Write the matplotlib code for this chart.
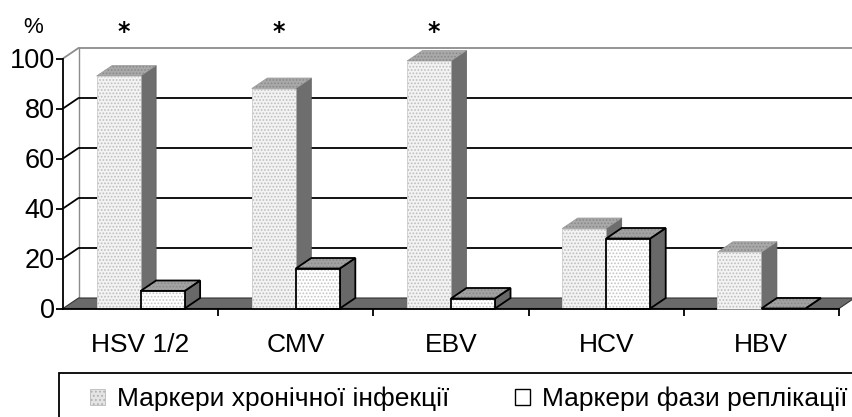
import matplotlib
matplotlib.use("Agg")
import matplotlib.pyplot as plt
from matplotlib.patches import Rectangle, Polygon, Patch

plt.rcParams['font.family'] = ['Liberation Sans', 'DejaVu Sans']
plt.rcParams['hatch.linewidth'] = 0.8

# ---- data ----
categories = ["HSV 1/2", "CMV", "EBV", "HCV", "HBV"]
chronic = [93, 88, 99, 32, 22.5]
replication = [7, 16, 4, 28, 0]
significant = [True, True, True, False, False]
yticks = [0, 20, 40, 60, 80, 100]
legend_labels = ["Маркери хронічної інфекції", "Маркери фази реплікації"]

# ---- style ----
W, H, DPI = 853, 417, 100
BAR_W = 0.2835
DX, DY = 0.1, 4.2

fig = plt.figure(figsize=(W / DPI, H / DPI), dpi=DPI)
fig.patch.set_facecolor('white')
ax = fig.add_axes([63 / W, (H - 308.5) / H, 776 / W, 250 / H])
ax.set_xlim(-0.5, len(categories) - 0.5)
ax.set_ylim(0, 100)
ax.set_facecolor('none')
for s in ['top', 'right']:
    ax.spines[s].set_visible(False)
for s in ['left', 'bottom']:
    ax.spines[s].set_linewidth(1.3)
    ax.spines[s].set_zorder(10)

x_left = -0.5
x_right = len(categories) - 0.5

# back wall gridlines and side wall diagonals
for v in yticks:
    col = '#8c8c8c' if v == 100 else 'black'
    if v == 0:
        continue
    ax.plot([x_left, x_left + DX, x_right + DX], [v, v + DY, v + DY],
            color=col, lw=1.3, clip_on=False, zorder=0.5, solid_capstyle='butt')
# back-left vertical edge
ax.plot([x_left + DX, x_left + DX], [DY, 100 + DY], color='#8c8c8c', lw=1.0,
        clip_on=False, zorder=0.4)

# floor
ax.add_patch(Polygon([(x_left, 0), (x_right, 0), (x_right + DX, DY), (x_left + DX, DY)],
                     closed=True, facecolor='#6a6a6a', edgecolor='#333333', lw=0.8,
                     clip_on=False, zorder=1))


def face(points, fc, hc, ec, lw, z):
    ax.add_patch(Polygon(points, closed=True, facecolor=fc, edgecolor='none',
                         lw=0, clip_on=False, zorder=z))
    if hc is not None:
        ax.add_patch(Polygon(points, closed=True, facecolor='none', edgecolor=hc,
                             hatch='.....', lw=0, clip_on=False, zorder=z))
    ax.add_patch(Polygon(points, closed=True, facecolor='none', edgecolor=ec,
                         lw=lw, clip_on=False, zorder=z, joinstyle='miter'))


def bar3d(x0, h, kind, z):
    if kind == 'chronic':
        front_fc, front_hc = '#f3f3f3', '#bdbdbd'
        top_fc, top_hc = '#a9a9a9', '#8a8a8a'
        side_fc = '#6e6e6e'
        ec, lw = '#c8c8c8', 0.5
    else:
        front_fc, front_hc = '#ffffff', '#c4c4c4'
        top_fc, top_hc = '#a2a2a2', '#8a8a8a'
        side_fc = '#686868'
        ec, lw = 'black', 1.3
    x1 = x0 + BAR_W
    front = [(x0, 0), (x1, 0), (x1, h), (x0, h)]
    top = [(x0, h), (x1, h), (x1 + DX, h + DY), (x0 + DX, h + DY)]
    side = [(x1, 0), (x1 + DX, DY), (x1 + DX, h + DY), (x1, h)]
    face(side, side_fc, None, ec if kind != 'chronic' else '#5a5a5a', lw, z)
    face(top, top_fc, top_hc, ec if kind != 'chronic' else '#9a9a9a', lw, z)
    if h > 0:
        face(front, front_fc, front_hc, ec, lw, z)


z = 3
for i, (c, r) in enumerate(zip(chronic, replication)):
    bar3d(i - BAR_W, c, 'chronic', z)
    z += 1
    bar3d(i, r, 'repl', z)
    z += 1
    if significant[i]:
        ax.text(i - 0.11, 110.5, '*', ha='center', va='center', fontsize=17,
                fontweight='bold', family=['DejaVu Sans'], clip_on=False)

ax.text(-0.69, 112.5, '%', ha='center', va='center', fontsize=16, clip_on=False)

# y axis
ax.set_yticks(yticks)
ax.set_yticklabels([str(v) for v in yticks], fontsize=19.5)
ax.tick_params(axis='y', direction='out', length=5, width=1.3, pad=1)

# x axis
ax.set_xticks(range(len(categories)))
ax.set_xticklabels(categories, fontsize=19)
ax.set_xticks([i + 0.5 for i in range(len(categories))], minor=True)
ax.tick_params(axis='x', which='major', length=0, pad=18)
ax.tick_params(axis='x', which='minor', direction='out', length=5, width=1.3)

# legend
handles = [Patch(facecolor='#e4e4e4', edgecolor='#b0b0b0', hatch='....', lw=0.5),
           Patch(facecolor='white', edgecolor='black', lw=1.0)]
fig.add_artist(Rectangle((59 / W, -0.1), 1.0, (H - 373) / H + 0.1,
                         transform=fig.transFigure, facecolor='none',
                         edgecolor='black', lw=1.3))
fig.legend(handles, legend_labels, loc='center left',
           bbox_to_anchor=(90 / W, (H - 399) / H), ncol=2, frameon=False,
           fontsize=19, handlelength=0.57, handleheight=0.57, handletextpad=0.45,
           columnspacing=2.5, borderpad=0, borderaxespad=0)

fig.savefig('out.png', dpi=DPI)
